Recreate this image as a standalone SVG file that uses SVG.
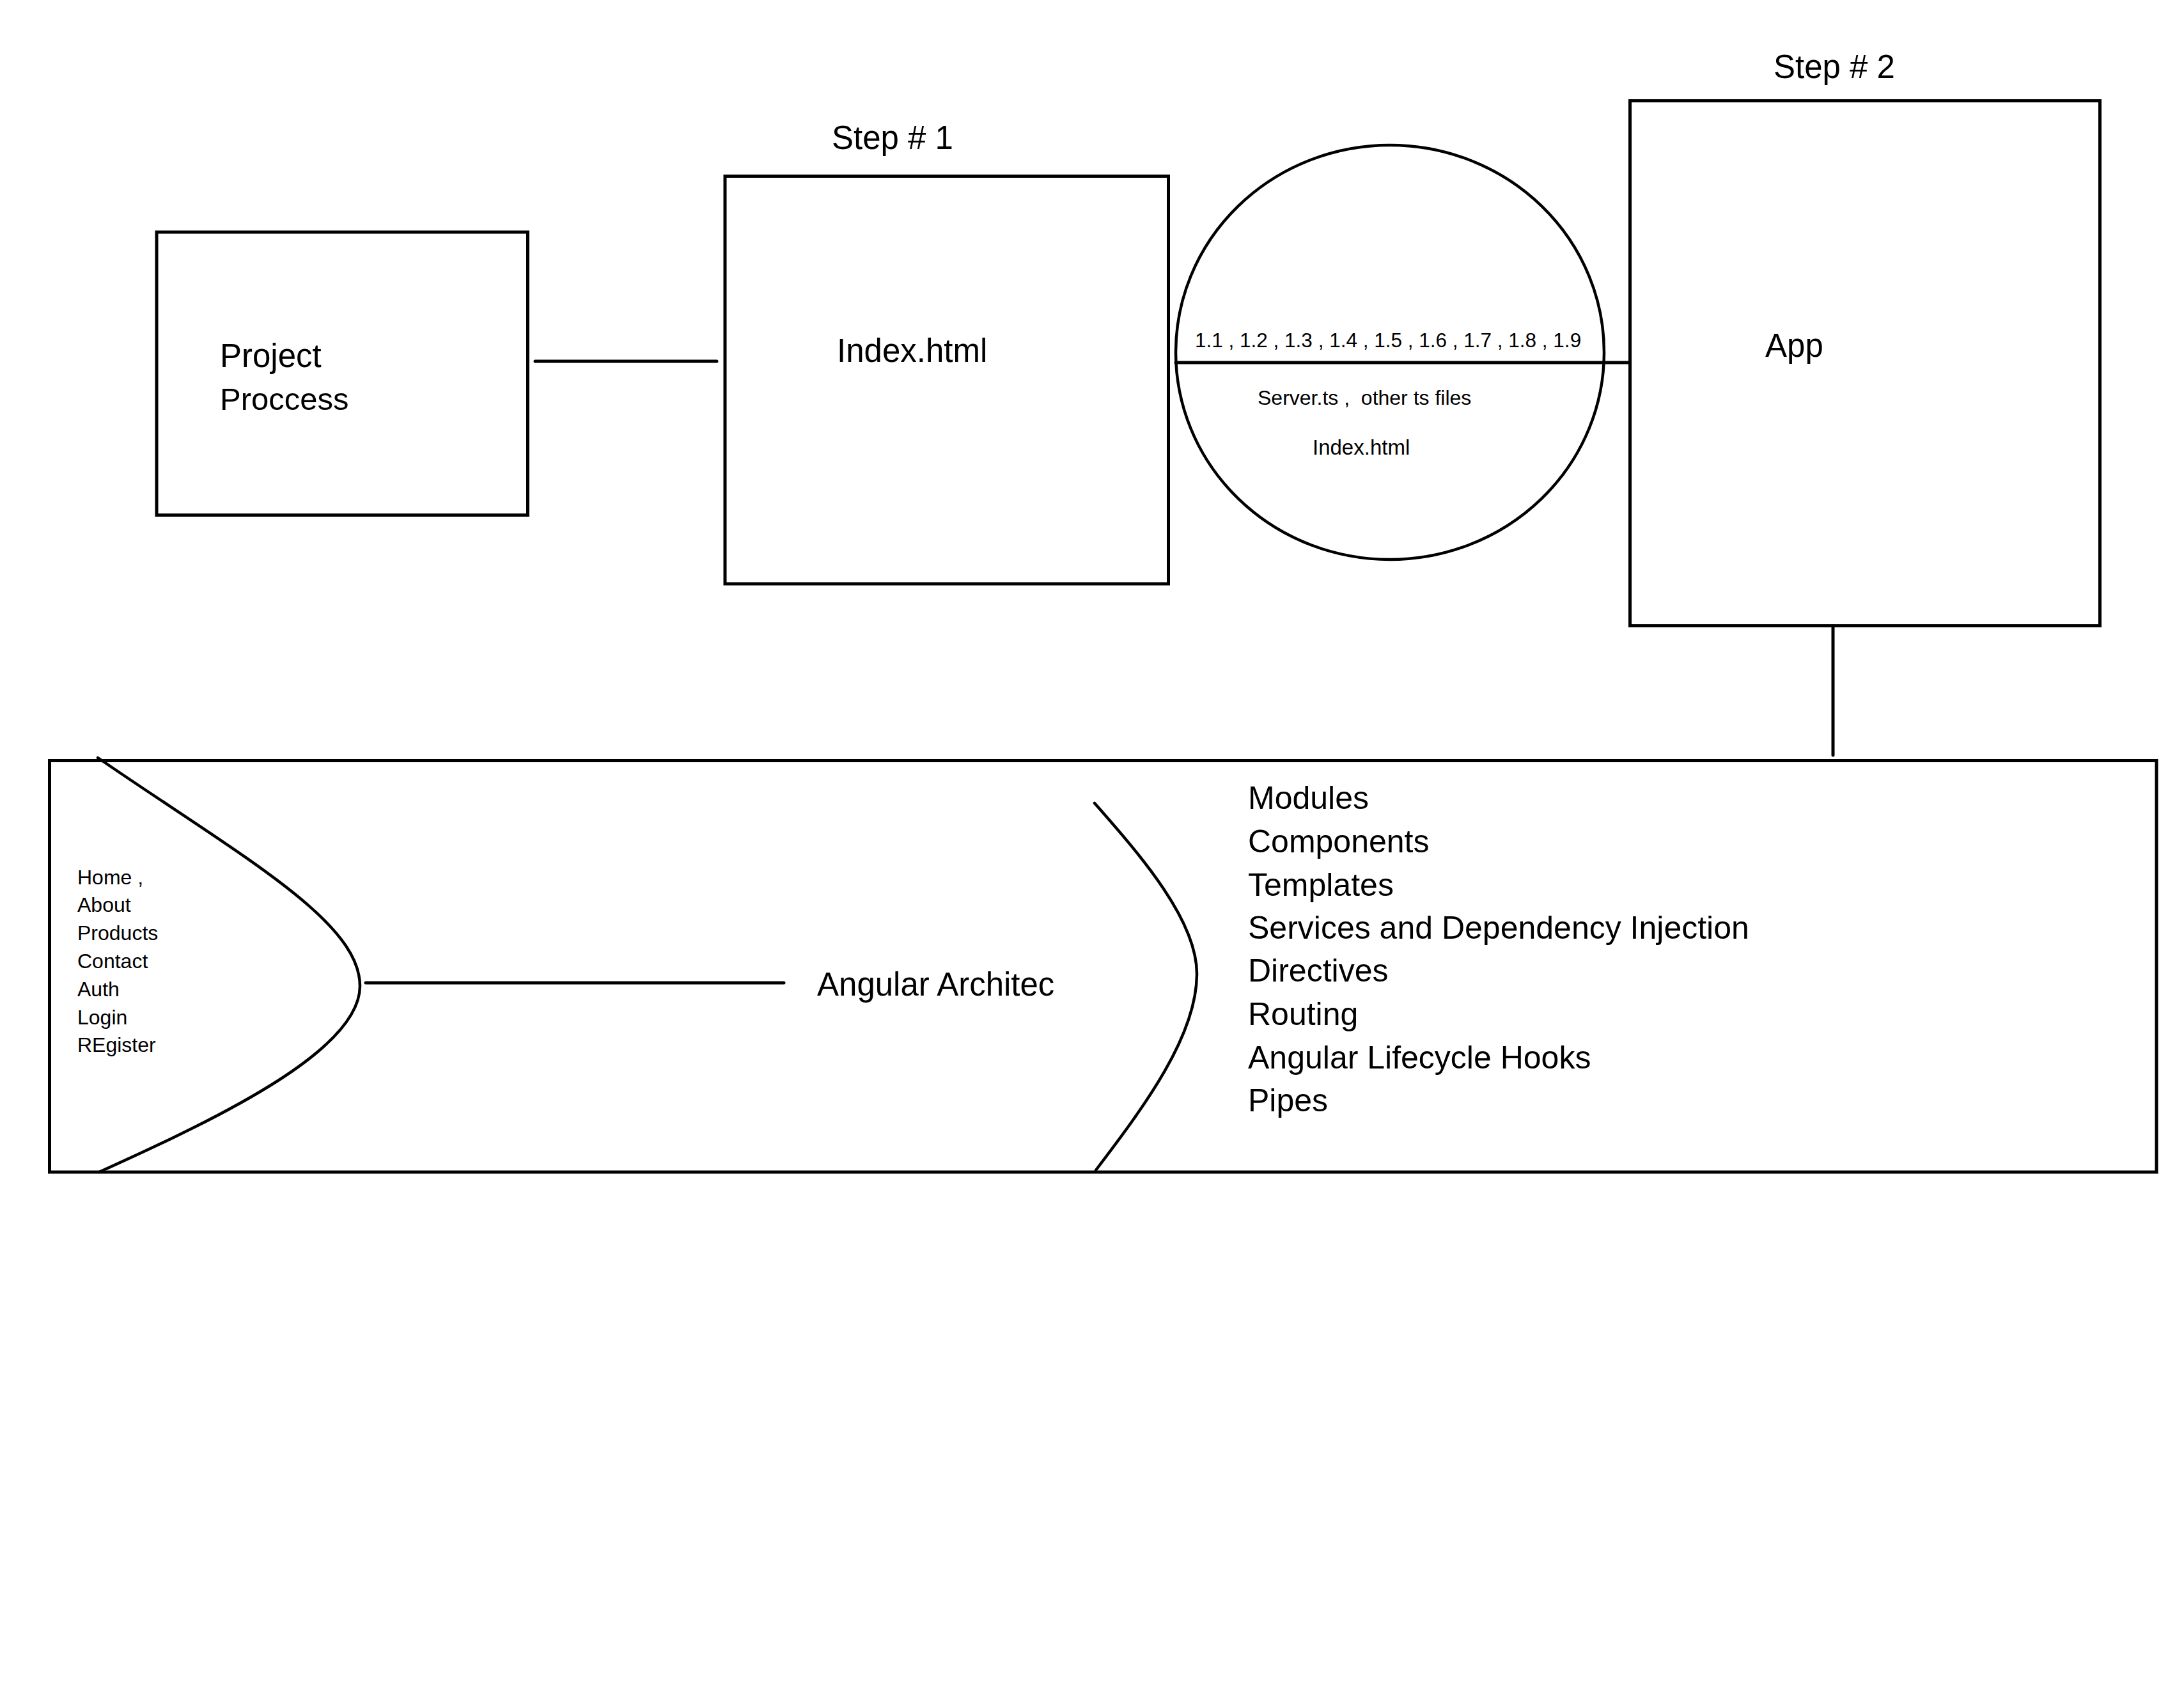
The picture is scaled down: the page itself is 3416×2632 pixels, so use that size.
<svg xmlns="http://www.w3.org/2000/svg" width="3416" height="2632" viewBox="0 0 3416 2632">
<style>
.box{fill:none;stroke:#000;stroke-width:5}
.ln{fill:none;stroke:#000;stroke-width:5;stroke-linecap:round}
.crv{fill:none;stroke:#000;stroke-width:4.5;stroke-linecap:round}
.t{font-family:"Liberation Sans",Arial,sans-serif;fill:#000;white-space:pre}
.big{font-size:51px}
.sm{font-size:32px}
</style>
<rect width="3416" height="2632" fill="#fff"/>
<g id="project-process">
<rect class="box" x="245" y="363" width="580.5" height="442.5"/>
<text class="t big" x="344" y="574">Project</text>
<text class="t" font-size="49" x="344" y="641">Proccess</text>
</g>
<g id="step1-index">
<text class="t big" x="1301" y="233">Step # 1</text>
<rect class="box" x="1134" y="275.5" width="693.5" height="637.5"/>
<text class="t big" x="1309" y="566">Index.html</text>
</g>
<g id="files-circle">
<ellipse cx="2174" cy="551" rx="335" ry="324" fill="none" stroke="#000" stroke-width="4.5"/>
<line class="ln" x1="1839" y1="567" x2="2509" y2="567"/>
<text class="t" font-size="31.5" x="1869" y="543">1.1 , 1.2 , 1.3 , 1.4 , 1.5 , 1.6 , 1.7 , 1.8 , 1.9</text>
<text class="t sm" x="1967" y="633" xml:space="preserve">Server.ts ,  other ts files</text>
<text class="t" font-size="33" x="2053" y="711">Index.html</text>
</g>
<g id="step2-app">
<text class="t big" x="2774" y="122">Step # 2</text>
<rect class="box" x="2549.5" y="157.6" width="735" height="821"/>
<text class="t big" x="2761" y="558">App</text>
</g>
<g id="angular-architecture">
<rect class="box" x="77.5" y="1189.5" width="3295.5" height="643.5"/>
<path class="crv" d="M153,1185 C377,1339 563,1440 563,1542 C563,1640 355,1743 155,1833"/>
<path class="crv" stroke-width="3.5" d="M1712,1256 C1787,1341 1872,1440 1872,1523 C1872,1620 1790,1730 1714,1830"/>
<text class="t sm" x="121" y="1383">Home ,</text>
<text class="t sm" x="121" y="1426">About</text>
<text class="t sm" x="121" y="1470">Products</text>
<text class="t sm" x="121" y="1514">Contact</text>
<text class="t sm" x="121" y="1558">Auth</text>
<text class="t sm" x="121" y="1602">Login</text>
<text class="t sm" x="121" y="1645">REgister</text>
<text class="t big" x="1278" y="1557">Angular Architec</text>
<g font-size="50">
<text class="t" x="1952" y="1265">Modules</text>
<text class="t" x="1952" y="1333">Components</text>
<text class="t" x="1952" y="1401">Templates</text>
<text class="t" x="1952" y="1468">Services and Dependency Injection</text>
<text class="t" x="1952" y="1535">Directives</text>
<text class="t" x="1952" y="1603">Routing</text>
<text class="t" x="1952" y="1671">Angular Lifecycle Hooks</text>
<text class="t" x="1952" y="1738">Pipes</text>
</g>
</g>
<g id="connectors">
<line class="ln" x1="837" y1="565" x2="1121" y2="565"/>
<line class="ln" x1="2509" y1="567" x2="2549" y2="567"/>
<line class="ln" stroke-width="4" x1="2867" y1="979" x2="2867" y2="1181"/>
<line class="ln" x1="572" y1="1537" x2="1226" y2="1537"/>
</g>
</svg>
